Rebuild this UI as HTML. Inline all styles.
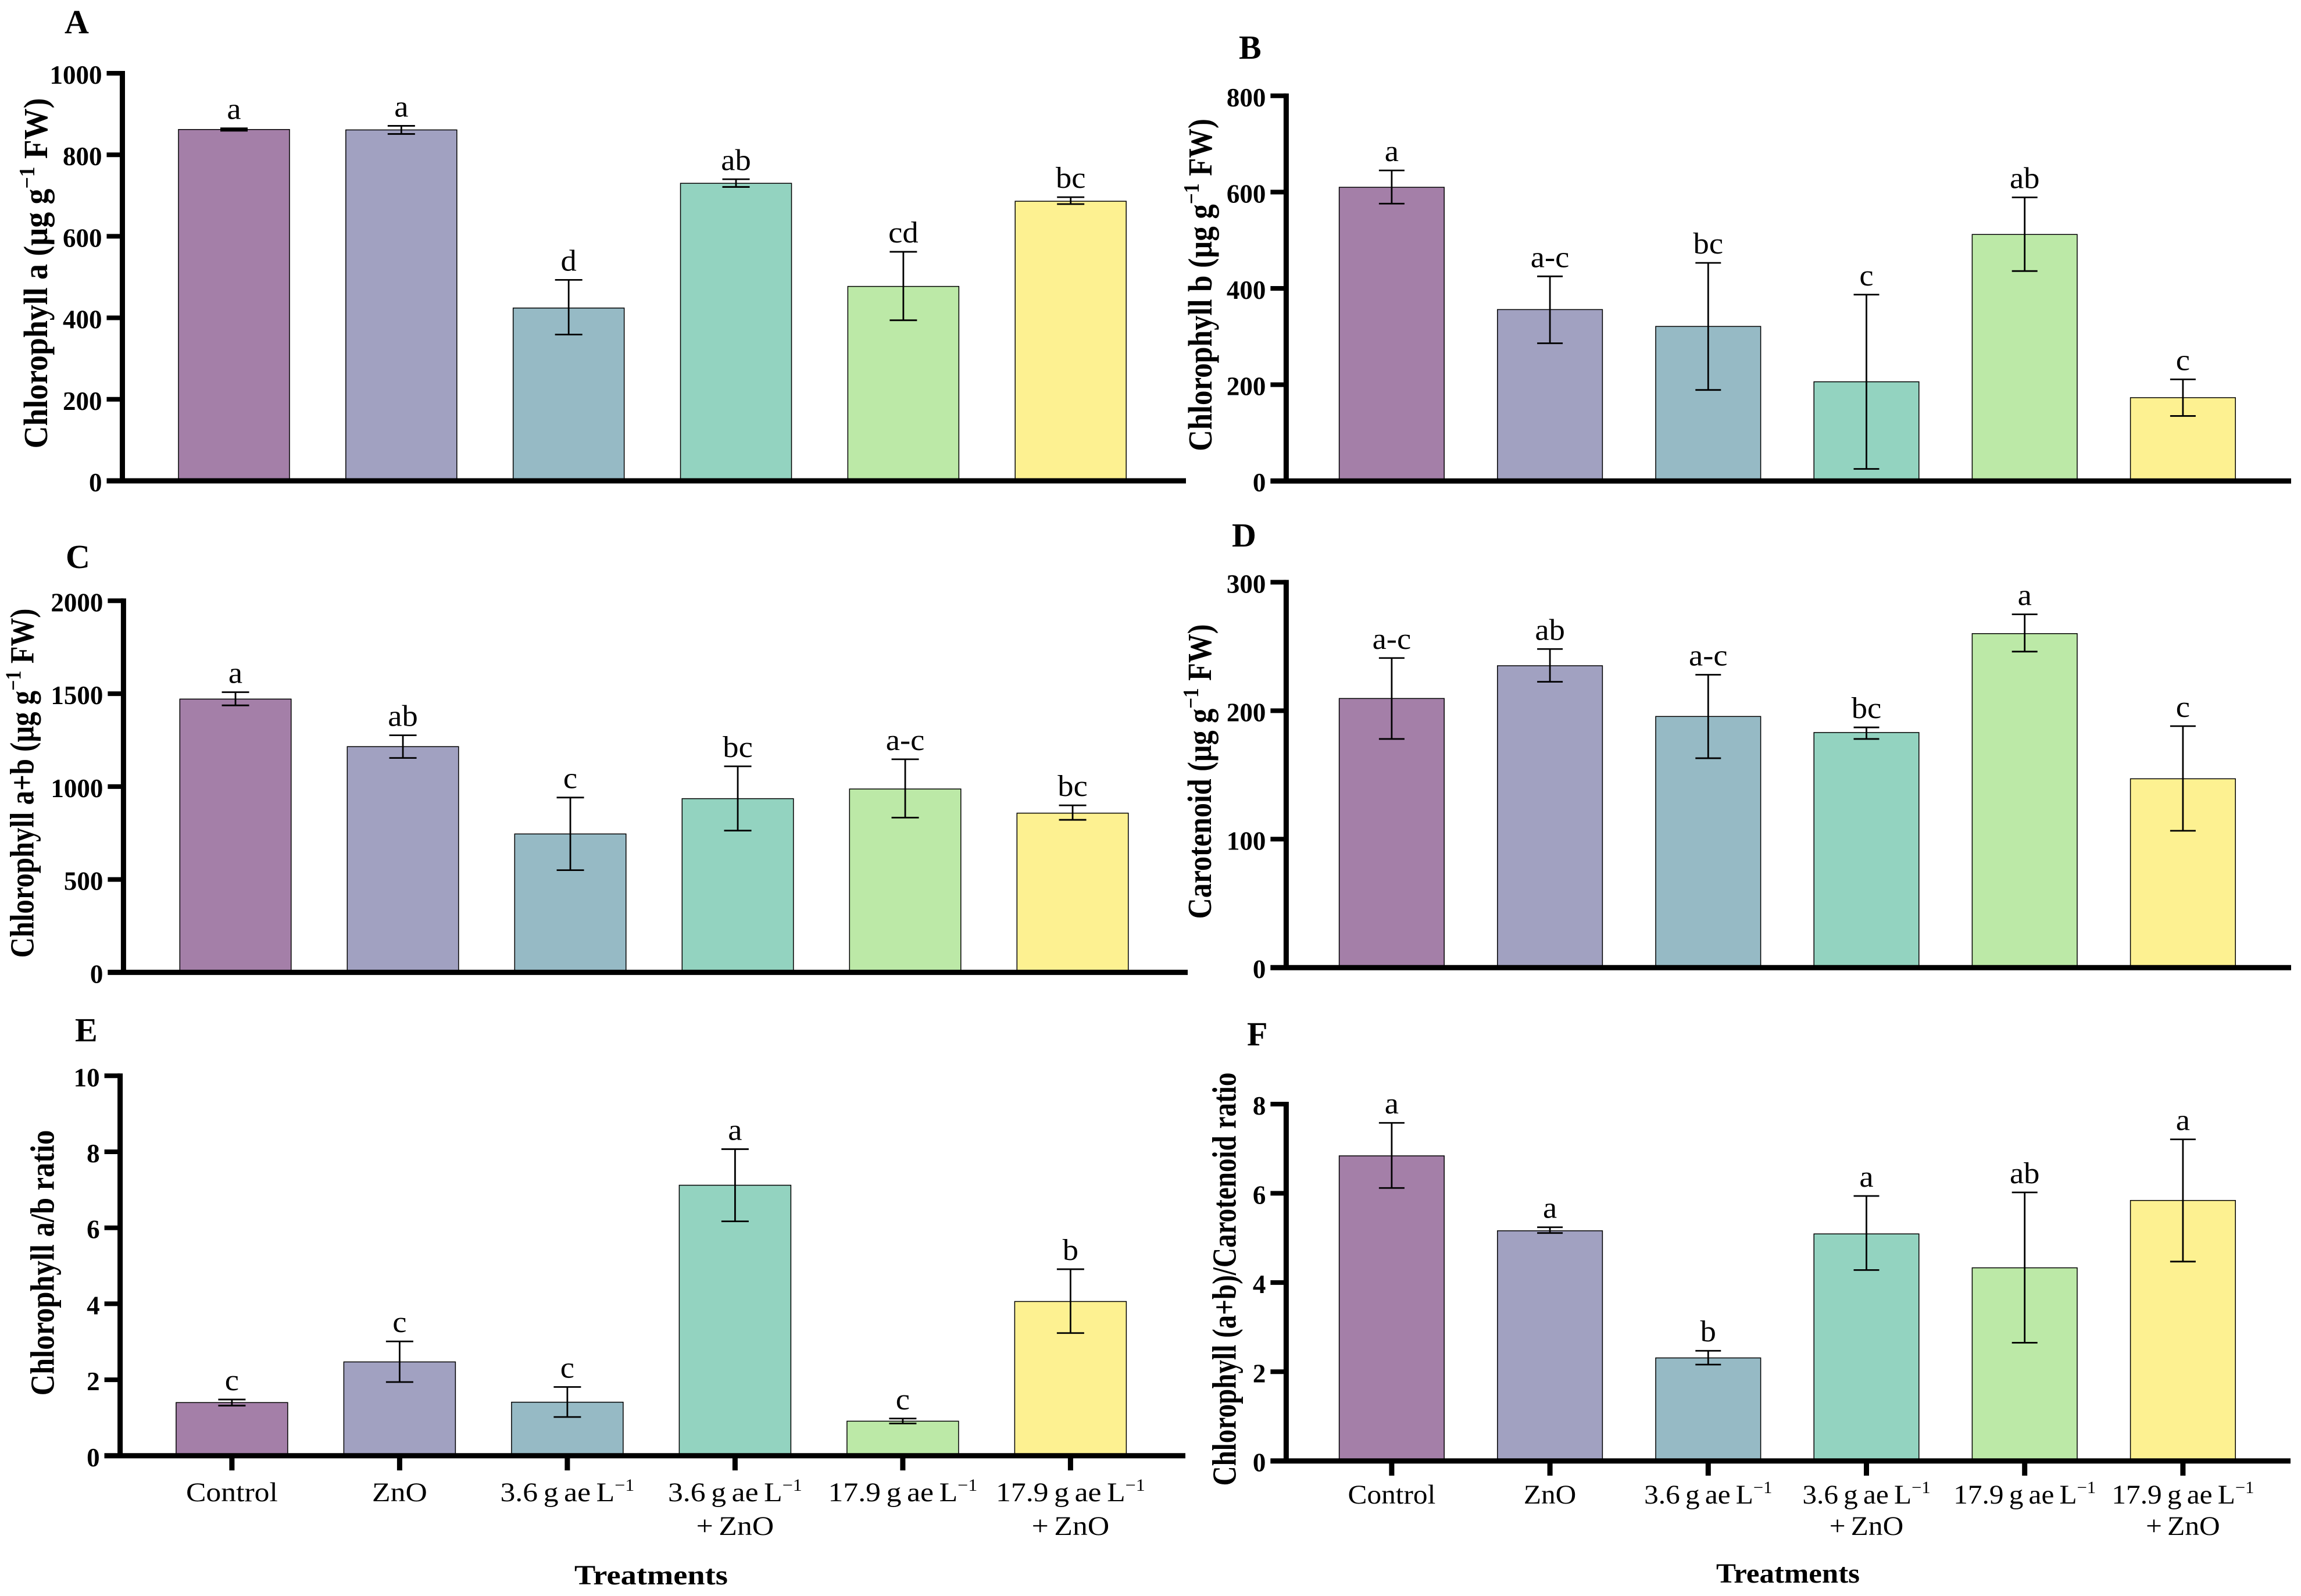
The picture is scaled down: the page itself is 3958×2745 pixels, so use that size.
<!DOCTYPE html>
<html lang="en">
<head>
<meta charset="utf-8">
<title>Chlorophyll and carotenoid content by treatment</title>
<style>
  html, body { margin: 0; padding: 0; background: #fff; }
  svg { display: block; }
  text { font-family: "Liberation Serif", "DejaVu Serif", serif; fill: #000; }
</style>
</head>
<body>
<svg id="figure" xmlns="http://www.w3.org/2000/svg" width="3958" height="2745" viewBox="0 0 3958 2745">
  <rect x="0" y="0" width="3958" height="2745" fill="#ffffff"/>
</svg>
<script>
// ---- Shared categories ----
const categoryLines = [
  ["Control"],
  ["ZnO"],
  ["3.6 g ae L^{−1}"],
  ["3.6 g ae L^{−1}", "+ ZnO"],
  ["17.9 g ae L^{−1}"],
  ["17.9 g ae L^{−1}", "+ ZnO"]
];
const barColors = ["#A47FA8", "#A1A1C1", "#96BAC5", "#93D3C0", "#BCE9A7", "#FDF191"];

// ---- Panel A ----
const chlAValues = [862, 861, 424, 730, 477, 686];
const chlAUpper  = [865, 871, 493, 740, 562, 696];
const chlALower  = [859, 851, 359, 721, 394, 679];
const chlASig    = ["a", "a", "d", "ab", "cd", "bc"];
const chlATicks  = [0, 200, 400, 600, 800, 1000];

// ---- Panel B ----
const chlBValues = [610, 356, 321, 206, 512, 173];
const chlBUpper  = [645, 425, 453, 387, 589, 211];
const chlBLower  = [576, 286, 189, 25, 436, 135];
const chlBSig    = ["a", "a-c", "bc", "c", "ab", "c"];
const chlBTicks  = [0, 200, 400, 600, 800];

// ---- Panel C ----
const chlABValues = [1471, 1215, 745, 935, 987, 857];
const chlABUpper  = [1508, 1276, 941, 1109, 1147, 899];
const chlABLower  = [1437, 1154, 550, 763, 833, 821];
const chlABSig    = ["a", "ab", "c", "bc", "a-c", "bc"];
const chlABTicks  = [0, 500, 1000, 1500, 2000];

// ---- Panel D ----
const carValues = [209.5, 235, 195.5, 183, 260, 147];
const carUpper  = [241, 248, 228, 187, 275, 188];
const carLower  = [178, 222.5, 163, 178, 246, 106.5];
const carSig    = ["a-c", "ab", "a-c", "bc", "a", "c"];
const carTicks  = [0, 100, 200, 300];

// ---- Panel E ----
const ratioABValues = [1.40, 2.47, 1.41, 7.12, 0.91, 4.06];
const ratioABUpper  = [1.48, 3.01, 1.81, 8.07, 0.98, 4.91];
const ratioABLower  = [1.32, 1.94, 1.02, 6.17, 0.85, 3.23];
const ratioABSig    = ["c", "c", "c", "a", "c", "b"];
const ratioABTicks  = [0, 2, 4, 6, 8, 10];

// ---- Panel F ----
const ratioCarValues = [6.84, 5.16, 2.31, 5.09, 4.33, 5.84];
const ratioCarUpper  = [7.58, 5.24, 2.47, 5.94, 6.02, 7.21];
const ratioCarLower  = [6.12, 5.11, 2.16, 4.28, 2.65, 4.47];
const ratioCarSig    = ["a", "a", "b", "a", "ab", "a"];
const ratioCarTicks  = [0, 2, 4, 6, 8];

// ---- Panel layouts ----
const panels = [
  { key: "a", letter: "A", lx: 111, ly: 57,
    title: "Chlorophyll a (µg g^{−1} FW)", titleX: 81, titleC: 470, titleLen: 603,
    axisX: 210.5, y0: 827, yTop: 126, xEnd: 2040, bar0: 307, pitch: 287.84, barW: 191, cap: 47,
    values: chlAValues, upper: chlAUpper, lower: chlALower, sig: chlASig, ticks: chlATicks },
  { key: "b", letter: "B", lx: 2131, ly: 101,
    title: "Chlorophyll b (µg g^{−1} FW)", titleX: 2084, titleC: 490, titleLen: 572,
    axisX: 2212.4, y0: 827.2, yTop: 164.8, xEnd: 3941, bar0: 2303.6, pitch: 272.2, barW: 180.6, cap: 44,
    values: chlBValues, upper: chlBUpper, lower: chlBLower, sig: chlBSig, ticks: chlBTicks },
  { key: "c", letter: "C", lx: 113, ly: 977,
    title: "Chlorophyll a+b (µg g^{−1} FW)", titleX: 57.4, titleC: 1347, titleLen: 601,
    axisX: 212.4, y0: 1672.4, yTop: 1033.3, xEnd: 2043, bar0: 309.3, pitch: 288, barW: 191.5, cap: 47,
    values: chlABValues, upper: chlABUpper, lower: chlABLower, sig: chlABSig, ticks: chlABTicks },
  { key: "d", letter: "D", lx: 2119, ly: 940,
    title: "Carotenoid (µg g^{−1} FW)", titleX: 2083, titleC: 1327, titleLen: 507,
    axisX: 2212.4, y0: 1664.2, yTop: 1001.4, xEnd: 3941, bar0: 2303.6, pitch: 272.2, barW: 180.6, cap: 44,
    values: carValues, upper: carUpper, lower: carLower, sig: carSig, ticks: carTicks },
  { key: "e", letter: "E", lx: 129, ly: 1791,
    title: "Chlorophyll a/b ratio", titleX: 92.5, titleC: 2172, titleLen: 457,
    axisX: 206.6, y0: 2503.8, yTop: 1850.3, xEnd: 2039, bar0: 302.9, pitch: 288.5, barW: 192, cap: 47,
    values: ratioABValues, upper: ratioABUpper, lower: ratioABLower, sig: ratioABSig, ticks: ratioABTicks,
    xTickEnd: 2529, catY: 2582, catY2: 2640, catScale: 1.1, xTitleC: 1120, xTitleY: 2725, xTitleLen: 264 },
  { key: "f", letter: "F", lx: 2145, ly: 1798,
    title: "Chlorophyll (a+b)/Carotenoid ratio", titleX: 2125.6, titleC: 2200, titleLen: 711,
    axisX: 2212.4, y0: 2512.7, yTop: 1899, xEnd: 3940, bar0: 2303.6, pitch: 272.2, barW: 180.6, cap: 44,
    values: ratioCarValues, upper: ratioCarUpper, lower: ratioCarLower, sig: ratioCarSig, ticks: ratioCarTicks,
    xTickEnd: 2538, catY: 2586, catY2: 2640, catScale: 1.05, xTitleC: 3075.5, xTitleY: 2722, xTitleLen: 247 }
];

const SVG_NS = "http://www.w3.org/2000/svg";
const figure = document.getElementById("figure");

function make(parent, tag, attrs) {
  const el = document.createElementNS(SVG_NS, tag);
  for (const k in attrs) el.setAttribute(k, attrs[k]);
  parent.appendChild(el);
  return el;
}

// Writes text, turning ^{...} into a superscript tspan.
function writeRich(el, str, supScale) {
  const parts = str.split(/\^\{|\}/);
  const size = parseFloat(el.getAttribute("font-size"));
  parts.forEach(function (part, i) {
    if (!part) return;
    const span = make(el, "tspan", {});
    span.textContent = part;
    if (i % 2 === 1) {
      span.setAttribute("font-size", size * supScale);
      span.setAttribute("dy", -size * 0.38);
    } else if (i > 1) {
      span.setAttribute("dy", size * 0.38);
    }
  });
}

function drawPanel(p) {
  const g = make(figure, "g", {});
  
  

  const yMax = p.ticks[p.ticks.length - 1];
  const yScale = function (v) { return p.y0 - (v / yMax) * (p.y0 - p.yTop); };
  const xLeft = function (i) { return p.bar0 + i * p.pitch; };
  const xCenter = function (i) { return xLeft(i) + p.barW / 2; };

  // Panel letter
  const letter = make(g, "text", { x: p.lx, y: p.ly, "font-size": 58, "font-weight": "bold" });
  
  
  letter.textContent = p.letter;

  // Bars
  p.values.forEach(function (v, i) {
    const bar = make(g, "rect", {
      x: xLeft(i), y: yScale(v), width: p.barW, height: p.y0 - yScale(v),
      fill: barColors[i], stroke: "#000", "stroke-width": 1.5
    });
    
    
  });

  // Error bars and significance letters
  p.values.forEach(function (v, i) {
    const cx = xCenter(i);
    const yHi = yScale(p.upper[i]);
    const yLo = yScale(p.lower[i]);
    const d = "M" + cx + " " + yHi + "V" + yLo +
              "M" + (cx - p.cap / 2) + " " + yHi + "H" + (cx + p.cap / 2) +
              "M" + (cx - p.cap / 2) + " " + yLo + "H" + (cx + p.cap / 2);
    const err = make(g, "path", { d: d, fill: "none", stroke: "#000", "stroke-width": 2.8 });
    
    

    const sig = make(g, "text", {
      "text-anchor": "middle", "font-size": 52,
      transform: "translate(" + cx + "," + (yHi - 16) + ") scale(1.05,1)"
    });
    
    
    sig.textContent = p.sig[i];
  });

  // Y axis, ticks, tick labels
  const yAxis = make(g, "line", {
    x1: p.axisX, x2: p.axisX, y1: p.yTop - 4, y2: p.y0 + 4, stroke: "#000", "stroke-width": 9
  });
  
  

  p.ticks.forEach(function (t) {
    const ty = yScale(t);
    const tick = make(g, "line", {
      x1: p.axisX - 27, x2: p.axisX, y1: ty, y2: ty, stroke: "#000", "stroke-width": 8
    });
    
    

    const lab = make(g, "text", {
      x: p.axisX - 35, y: ty + 18, "text-anchor": "end", "font-size": 45, "font-weight": "bold"
    });
    
    
    lab.textContent = String(t);
  });

  // X axis
  const xAxis = make(g, "line", {
    x1: p.axisX - 27, x2: p.xEnd, y1: p.y0, y2: p.y0, stroke: "#000", "stroke-width": 9
  });
  
  

  // Y title, fitted to its measured length
  const yTitle = make(g, "text", { "text-anchor": "middle", "font-size": 58, "font-weight": "bold" });
  
  
  writeRich(yTitle, p.title, 0.66);
  const yScaleX = p.titleLen / yTitle.getComputedTextLength();
  yTitle.setAttribute("transform",
    "translate(" + p.titleX + "," + p.titleC + ") rotate(-90) scale(" + yScaleX + ",1)");

  // Category ticks, labels and x title (bottom row only)
  if (p.xTickEnd) {
    categoryLines.forEach(function (lines, i) {
      const cx = xCenter(i);
      const tick = make(g, "line", {
        x1: cx, x2: cx, y1: p.y0, y2: p.xTickEnd, stroke: "#000", "stroke-width": 9
      });
      
      

      lines.forEach(function (line, li) {
        const cat = make(g, "text", {
          "text-anchor": "middle", "font-size": 47, style: "word-spacing:-3px",
          transform: "translate(" + cx + "," + (li === 0 ? p.catY : p.catY2) + ") scale(" + p.catScale + ",1)"
        });
        
        
        writeRich(cat, line, 0.62);
      });
    });

    const xTitle = make(g, "text", { "text-anchor": "middle", "font-size": 48, "font-weight": "bold" });
    
    
    xTitle.textContent = "Treatments";
    const xScaleX = p.xTitleLen / xTitle.getComputedTextLength();
    xTitle.setAttribute("transform",
      "translate(" + p.xTitleC + "," + p.xTitleY + ") scale(" + xScaleX + ",1)");
  }
}

panels.forEach(drawPanel);
</script>
</body>
</html>
